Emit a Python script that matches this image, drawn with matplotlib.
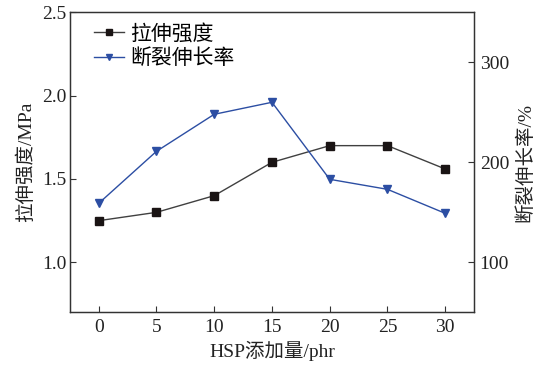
import matplotlib
matplotlib.use('Agg')
import matplotlib.pyplot as plt

plt.rcParams['font.family'] = ['Liberation Serif', 'Noto Sans CJK SC']
plt.rcParams['font.size'] = 14

# HSP loading (phr)
hsp = [0, 5, 10, 15, 20, 25, 30]
# tensile strength, MPa
tensile = [1.25, 1.30, 1.40, 1.60, 1.70, 1.70, 1.56]
# elongation at break, %
elong = [159, 211, 248, 260, 183, 173, 149]

x_ticks = [0, 5, 10, 15, 20, 25, 30]
left_ticks = [1.0, 1.5, 2.0, 2.5]
right_ticks = [100, 200, 300]

fig = plt.figure(figsize=(5.5, 3.71), dpi=100)
ax = fig.add_axes([0.127, 0.158, 0.735, 0.809])
ax2 = ax.twinx()

l1, = ax.plot(hsp, tensile, color='#404040', lw=1.0, marker='s', ms=5.6,
              mfc='#1a1414', mec='#1a1414', label='拉伸强度')
l2, = ax2.plot(hsp, elong, color='#2c4ea3', lw=1.0, marker='v', ms=5.8,
               mfc='#2c4ea3', mec='#2c4ea3', label='断裂伸长率')

ax.set_xlim(-2.5, 32.5)
ax.set_ylim(0.7, 2.5)
ax2.set_ylim(50, 350)
ax.set_xticks(x_ticks)
ax.set_yticks(left_ticks)
ax.set_yticklabels(['%.1f' % v for v in left_ticks])
ax2.set_yticks(right_ticks)

ax.tick_params(direction='in', length=4, width=0.8, colors='#333333',
               labelcolor='#222222')
ax.tick_params(axis='y', pad=2.5)
ax.tick_params(axis='x', pad=5)
ax2.tick_params(direction='in', length=4, width=0.8, colors='#333333',
                labelcolor='#222222', pad=4)
for a in (ax, ax2):
    for s in a.spines.values():
        s.set_color('#333333')
        s.set_linewidth(0.9)

ax.set_xlabel('HSP添加量/phr', color='#222222', labelpad=3)
ax.set_ylabel('拉伸强度/MPa', color='#222222', labelpad=5)
ax2.set_ylabel('断裂伸长率/%', color='#222222', labelpad=5)

ax.legend([l1, l2], ['拉伸强度', '断裂伸长率'], loc='upper left',
          frameon=False, markerscale=0.65, handlelength=1.45, fontsize=15,
          handletextpad=0.3, labelspacing=0.22, borderaxespad=0.2,
          bbox_to_anchor=(0.028, 1.0))

fig.savefig('out.png', dpi=100)
plt.close()
